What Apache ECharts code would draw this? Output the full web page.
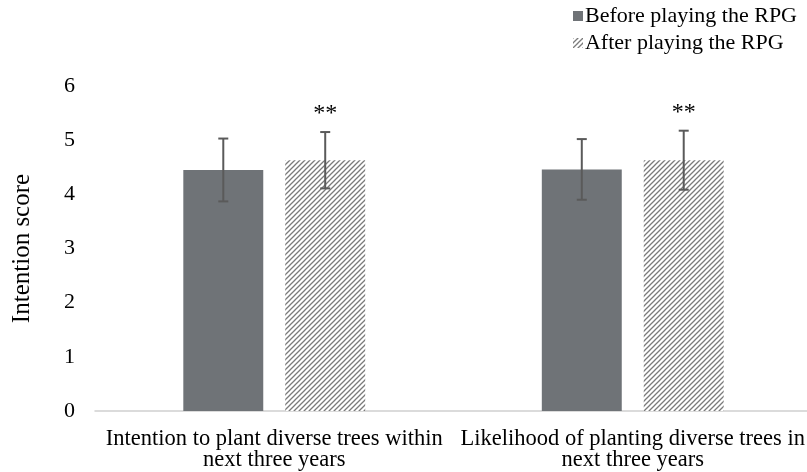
<!DOCTYPE html>
<html>
<head>
<meta charset="utf-8">
<script src="https://cdn.jsdelivr.net/npm/echarts@6/dist/echarts.min.js"></script>
<style>
  html, body { margin: 0; padding: 0; background: #fff; }
  #chart { width: 807px; height: 472px; }
</style>
</head>
<body>
<div id="chart"></div>
<script>
// Survey items (x-axis categories)
const categories = [
  'Intention to plant diverse trees within\nnext three years',
  'Likelihood of planting diverse trees in\nnext three years'
];
const seriesNames = ['Before playing the RPG', 'After playing the RPG'];
// Mean intention scores
const beforeMeans = [4.45, 4.46];
const afterMeans = [4.63, 4.63];
// Standard deviations (error bar half-lengths)
const beforeErr = [0.58, 0.56];
const afterErr = [0.52, 0.545];
// Significance markers over the "after" bars
const afterSig = ['**', '**'];
const yTicks = [0, 1, 2, 3, 4, 5, 6];

const FONT = 'Liberation Serif';
const BAR_W = 0.223;   // bar width as share of the category band
const BAR_GAP = 0.275; // gap between bars as share of bar width
const SOLID = '#6f7377';
const ERR_COLOR = '#5a5a5a';

// Diagonal hatch fill for the "after" bars
function makeHatch() {
  const s = 5;
  const c = document.createElement('canvas');
  c.width = s; c.height = s;
  const g = c.getContext('2d');
  g.fillStyle = '#ffffff';
  g.fillRect(0, 0, s, s);
  g.strokeStyle = '#7a7a7a';
  g.lineWidth = 1.3;
  g.beginPath();
  g.moveTo(-1, s + 1); g.lineTo(s + 1, -1);
  g.moveTo(-1, 1); g.lineTo(1, -1);
  g.moveTo(s - 1, s + 1); g.lineTo(s + 1, s - 1);
  g.stroke();
  return c;
}
const hatch = { image: makeHatch(), repeat: 'repeat' };

function errorSeries(idx, means, errs, sig) {
  const data = means.map((m, i) => [i, m - errs[i], m + errs[i], sig ? sig[i] : '']);
  return {
    type: 'custom',
    z: 10,
    silent: true,
    data: data,
    renderItem: function (params, api) {
      const band = api.size([1, 0])[0];
      const bw = band * BAR_W;
      const total = bw * 2 + bw * BAR_GAP;
      const offset = -total / 2 + bw / 2 + idx * bw * (1 + BAR_GAP);
      const lo = api.coord([api.value(0), api.value(1)]);
      const hi = api.coord([api.value(0), api.value(2)]);
      const x = lo[0] + offset;
      const cap = 5;
      const style = { stroke: ERR_COLOR, lineWidth: 2 };
      const children = [
        { type: 'line', shape: { x1: x, y1: lo[1], x2: x, y2: hi[1] }, style },
        { type: 'line', shape: { x1: x - cap, y1: lo[1], x2: x + cap, y2: lo[1] }, style },
        { type: 'line', shape: { x1: x - cap, y1: hi[1], x2: x + cap, y2: hi[1] }, style }
      ];
      const label = api.value(3);
      if (label) {
        children.push({
          type: 'text',
          style: {
            text: label, x: x, y: hi[1] - 6,
            align: 'center', verticalAlign: 'bottom',
            font: '24px "' + FONT + '"', fill: '#000'
          }
        });
      }
      return { type: 'group', children };
    }
  };
}

const chart = echarts.init(document.getElementById('chart'), null, { renderer: 'canvas' });
chart.setOption({
  animation: false,
  backgroundColor: '#fff',
  textStyle: { fontFamily: FONT },
  legend: {
    data: seriesNames,
    orient: 'vertical',
    right: 5,
    top: 0,
    itemWidth: 10,
    itemHeight: 10,
    itemGap: 5,
    icon: 'rect',
    textStyle: { fontFamily: FONT, fontSize: 22, color: '#000', padding: [0, 0, 0, -3] }
  },
  grid: { left: 95, right: -5, top: 86, bottom: 61, containLabel: false, outerBoundsMode: 'none' },
  xAxis: {
    type: 'category',
    data: categories,
    axisLine: { lineStyle: { color: '#d0d0d0', width: 1.5 } },
    axisTick: { show: false },
    axisLabel: { fontFamily: FONT, fontSize: 22.5, color: '#000', lineHeight: 21, margin: 18, interval: 0, hideOverlap: false }
  },
  yAxis: {
    type: 'value',
    min: 0, max: 6, interval: 1,
    name: 'Intention score',
    nameLocation: 'middle',
    nameGap: 60,
    nameTextStyle: { fontFamily: FONT, fontSize: 25, color: '#000' },
    axisLine: { show: false },
    axisTick: { show: false },
    splitLine: { show: false },
    axisLabel: {
      fontFamily: FONT, fontSize: 22, color: '#000', margin: 20,
      formatter: v => (yTicks.indexOf(v) >= 0 ? String(v) : '')
    }
  },
  series: [
    {
      name: seriesNames[0], type: 'bar', data: beforeMeans,
      barWidth: (BAR_W * 100) + '%', barGap: (BAR_GAP * 100) + '%',
      itemStyle: { color: SOLID }
    },
    {
      name: seriesNames[1], type: 'bar', data: afterMeans,
      barWidth: (BAR_W * 100) + '%', barGap: (BAR_GAP * 100) + '%',
      itemStyle: { color: hatch }
    },
    errorSeries(0, beforeMeans, beforeErr, null),
    errorSeries(1, afterMeans, afterErr, afterSig)
  ]
});
</script>
</body>
</html>
